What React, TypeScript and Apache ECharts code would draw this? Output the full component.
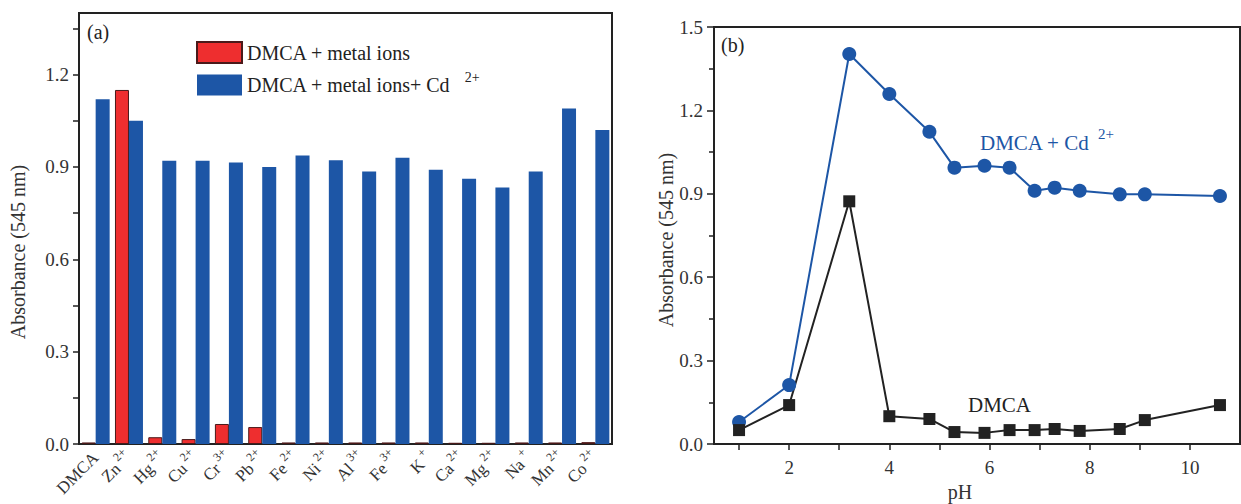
import React, { useEffect, useRef } from "react";
import * as echarts from "echarts";

const ionNames = ["DMCA", "Zn", "Hg", "Cu", "Cr", "Pb", "Fe", "Ni", "Al", "Fe", "K", "Ca", "Mg", "Na", "Mn", "Co"];
const ionCharges = ["", "2+", "2+", "2+", "3+", "2+", "2+", "2+", "3+", "3+", "+", "2+", "2+", "+", "2+", "2+"];
const ionCategories = ionNames.map((n, i) => n + ionCharges[i]);

const metalIons = [0.005, 1.15, 0.022, 0.016, 0.065, 0.055, 0.005, 0.005, 0.005, 0.005, 0.005, 0.004, 0.004, 0.005, 0.005, 0.006];
const metalIonsCd = [1.12, 1.05, 0.92, 0.92, 0.914, 0.9, 0.937, 0.922, 0.885, 0.93, 0.891, 0.862, 0.833, 0.885, 1.09, 1.02];

const leftYLabels = [0, 0.3, 0.6, 0.9, 1.2];
const leftYTicks = [0, 0.15, 0.3, 0.45, 0.6, 0.75, 0.9, 1.05, 1.2, 1.35];

const pH = [1.0, 2.0, 3.2, 4.0, 4.8, 5.3, 5.9, 6.4, 6.9, 7.3, 7.8, 8.6, 9.1, 10.6];
const dmcaCd = [0.079, 0.212, 1.403, 1.259, 1.123, 0.994, 1.001, 0.994, 0.911, 0.922, 0.911, 0.898, 0.898, 0.892];
const dmca = [0.05, 0.14, 0.873, 0.1, 0.09, 0.043, 0.04, 0.05, 0.05, 0.054, 0.047, 0.054, 0.086, 0.14];

const pHLabels = [2, 4, 6, 8, 10];
const pHTicks = [1, 2, 3, 4, 5, 6, 7, 8, 9, 10];

const FONT = "Liberation Serif";
const RED = "#ee2e2f";
const BLUE = "#1d56a6";
const DARK = "#222222";
const FS = 20;

export default function App() {
  const ref = useRef<HTMLDivElement>(null);
  useEffect(() => {
    if (!ref.current) return;
    const chart = echarts.init(ref.current, null, { renderer: "svg" });
    const axisLineStyle = { color: DARK, width: 2 };
    const tickLabel = { fontFamily: FONT, fontSize: 19, color: "#333" };
    chart.setOption({
      animation: false,
      textStyle: { fontFamily: FONT },
      grid: [
        { left: 79, top: 13, width: 533, height: 431, show: true, borderColor: DARK, borderWidth: 2, backgroundColor: "transparent" },
        { left: 714, top: 27, width: 526, height: 417, show: true, borderColor: DARK, borderWidth: 2, backgroundColor: "transparent" },
      ],
      legend: {
        orient: "vertical",
        left: 191,
        top: 36,
        itemWidth: 45,
        itemHeight: 21,
        itemGap: 6,
        icon: "rect",
        data: ["DMCA + metal ions", "DMCA + metal ions+ Cd"],
        textStyle: {
          fontFamily: FONT,
          fontSize: FS,
          color: "#222",
          rich: {
            n: { fontFamily: FONT, fontSize: FS, color: "#222" },
            s: { fontFamily: FONT, fontSize: 14, color: "#222", padding: [0, 0, 16, 14] },
          },
        },
        formatter: (name: string) =>
          name === "DMCA + metal ions+ Cd" ? `{n|${name}}{s|2+}` : `{n|${name}}`,
      },
      xAxis: [
        {
          type: "category",
          gridIndex: 0,
          data: ionCategories,
          axisLine: { lineStyle: axisLineStyle },
          axisTick: { alignWithLabel: true, length: 6, lineStyle: { color: DARK, width: 1.5 } },
          axisLabel: {
            rotate: 45,
            interval: 0,
            margin: 11,
            fontFamily: FONT,
            fontSize: 17,
            color: "#333",
            formatter: (_v: string, i: number) =>
              ionCharges[i] ? `{n|${ionNames[i]}}{s|${ionCharges[i]}}` : `{n|${ionNames[i]}}`,
            rich: {
              n: { fontFamily: FONT, fontSize: 17, color: "#333" },
              s: { fontFamily: FONT, fontSize: 12, color: "#333", padding: [0, 0, 14, 3] },
            },
          },
        },
        {
          type: "category",
          gridIndex: 0,
          data: ionCategories,
          axisLine: { show: false },
          axisTick: { length: 6, lineStyle: { color: DARK, width: 1.5 } },
          axisLabel: { show: false },
        },
        {
          type: "value",
          gridIndex: 1,
          min: 0.5,
          max: 11,
          axisLine: { lineStyle: axisLineStyle },
          axisTick: { length: 6, lineStyle: { color: DARK, width: 1.5 }, customValues: pHTicks },
          axisLabel: { ...tickLabel, margin: 14, customValues: pHLabels },
          splitLine: { show: false },
        },
      ],
      yAxis: [
        {
          type: "value",
          gridIndex: 0,
          min: 0,
          max: 1.4,
          axisLine: { show: true, lineStyle: axisLineStyle },
          axisTick: { show: true, length: 6, lineStyle: { color: DARK, width: 1.5 }, customValues: leftYTicks },
          axisLabel: { ...tickLabel, margin: 10, customValues: leftYLabels, formatter: (v: number) => v.toFixed(1) },
          splitLine: { show: false },
        },
        {
          type: "value",
          gridIndex: 1,
          min: 0,
          max: 1.5,
          interval: 0.3,
          axisLine: { show: true, lineStyle: axisLineStyle },
          axisTick: { show: true, length: 7, lineStyle: { color: DARK, width: 1.5 } },
          minorTick: { show: true, splitNumber: 2, length: 5, lineStyle: { color: DARK, width: 1.5 } },
          axisLabel: { ...tickLabel, margin: 11, formatter: (v: number) => v.toFixed(1) },
          splitLine: { show: false },
        },
      ],
      series: [
        {
          name: "DMCA + metal ions",
          type: "bar",
          xAxisIndex: 0,
          yAxisIndex: 0,
          data: metalIons,
          barWidth: 14,
          barGap: "0%",
          itemStyle: { color: RED, borderColor: "#4a1a1a", borderWidth: 1 },
        },
        {
          name: "DMCA + metal ions+ Cd",
          type: "bar",
          xAxisIndex: 0,
          yAxisIndex: 0,
          data: metalIonsCd,
          barWidth: 14,
          barGap: "0%",
          itemStyle: { color: BLUE },
        },
        {
          name: "DMCA + Cd2+",
          type: "line",
          xAxisIndex: 2,
          yAxisIndex: 1,
          data: pH.map((x, i) => [x, dmcaCd[i]]),
          symbol: "circle",
          symbolSize: 14,
          lineStyle: { color: BLUE, width: 2 },
          itemStyle: { color: BLUE },
        },
        {
          name: "DMCA",
          type: "line",
          xAxisIndex: 2,
          yAxisIndex: 1,
          data: pH.map((x, i) => [x, dmca[i]]),
          symbol: "rect",
          symbolSize: 12,
          lineStyle: { color: DARK, width: 2 },
          itemStyle: { color: DARK },
        },
      ],
      graphic: [
        { type: "text", left: 87, top: 22, style: { text: "(a)", fontFamily: FONT, fontSize: FS, fill: "#222" } },
        { type: "text", left: 721, top: 35, style: { text: "(b)", fontFamily: FONT, fontSize: FS, fill: "#222" } },
        {
          type: "text",
          x: 18,
          y: 252,
          rotation: Math.PI / 2,
          style: { text: "Absorbance (545 nm)", fontFamily: FONT, fontSize: FS, fill: "#333", align: "center", verticalAlign: "middle" },
        },
        {
          type: "text",
          x: 666,
          y: 240,
          rotation: Math.PI / 2,
          style: { text: "Absorbance (545 nm)", fontFamily: FONT, fontSize: FS, fill: "#333", align: "center", verticalAlign: "middle" },
        },
        {
          type: "text",
          x: 960,
          y: 492,
          style: { text: "pH", fontFamily: FONT, fontSize: FS, fill: "#333", align: "center", verticalAlign: "middle" },
        },
        {
          type: "text",
          x: 980,
          y: 143,
          style: {
            text: "{n|DMCA + Cd }{s|2+}",
            verticalAlign: "middle",
            rich: {
              n: { fontFamily: FONT, fontSize: 21, fill: BLUE },
              s: { fontFamily: FONT, fontSize: 15, fill: BLUE, padding: [0, 0, 18, 3] },
            },
          },
        },
        {
          type: "text",
          x: 968,
          y: 405,
          style: { text: "DMCA", fontFamily: FONT, fontSize: 21, fill: "#222", verticalAlign: "middle" },
        },
      ],
    });
    return () => chart.dispose();
  }, []);
  return (
    <div
      ref={ref}
      style={{ position: "fixed", left: 0, top: 0, width: 1241, height: 504, background: "#fff" }}
    />
  );
}
